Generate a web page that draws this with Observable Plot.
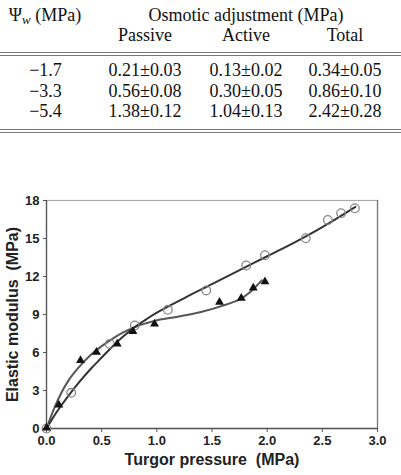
<!DOCTYPE html>
<html><head><meta charset="utf-8">
<script src="https://cdn.jsdelivr.net/npm/d3@7"></script>
<script src="https://cdn.jsdelivr.net/npm/@observablehq/plot@0.6"></script>
<style>
body{margin:0;background:#fff;width:401px;height:475px;overflow:hidden;position:relative}
#table{position:absolute;left:0;top:0;width:401px;height:140px;font-family:"Liberation Serif","Times New Roman",serif;font-size:18px;color:#111}
.t{position:absolute;white-space:nowrap;line-height:18px;transform:translateX(-50%)}
.rule{position:absolute;left:0;width:401px;height:1px;background:#777}
#chart{position:absolute;left:0;top:180px}
</style></head><body>
<div id="table"></div><div id="chart"></div>
<script>
// ---- table data ----
const tableGroup = "Osmotic adjustment (MPa)";
const tableCols = ["Passive", "Active", "Total"];
const psiW = ["\u22121.7", "\u22123.3", "\u22125.4"];
const passiveMean = [0.21, 0.56, 1.38];
const passiveSE = [0.03, 0.08, 0.12];
const activeMean = [0.13, 0.30, 1.04];
const activeSE = [0.02, 0.05, 0.13];
const totalMean = [0.34, 0.86, 2.42];
const totalSE = [0.05, 0.10, 0.28];

// ---- chart data ----
const circleX = [0, 0.224, 0.574, 0.80, 1.10, 1.448, 1.81, 1.98, 2.35, 2.55, 2.67, 2.795];
const circleY = [0, 2.82, 6.68, 8.13, 9.37, 10.9, 12.87, 13.68, 15.02, 16.47, 17.0, 17.39];
const triX = [0, 0.112, 0.308, 0.453, 0.641, 0.783, 0.979, 1.568, 1.765, 1.874, 1.98];
const triY = [0.05, 1.87, 5.37, 6.02, 6.68, 7.66, 8.26, 9.97, 10.29, 11.1, 11.6];
const circleFitX = [0, 0.1, 0.2, 0.3, 0.4, 0.5, 0.6, 0.7, 0.8, 0.9, 1.0, 1.25, 1.5, 1.75, 2.0, 2.25, 2.5, 2.8];
const circleFitY = [0, 1.4, 2.6, 3.7, 4.7, 5.6, 6.5, 7.3, 8.0, 8.6, 9.15, 10.3, 11.4, 12.5, 13.6, 14.7, 15.9, 17.5];
const triFitX = [0, 0.1, 0.2, 0.3, 0.4, 0.5, 0.6, 0.7, 0.8, 0.9, 1.0, 1.2, 1.4, 1.6, 1.75, 1.85, 1.95];
const triFitY = [0, 2.2, 3.8, 4.9, 5.8, 6.5, 7.1, 7.6, 8.0, 8.3, 8.55, 8.85, 9.2, 9.7, 10.2, 10.8, 11.7];
const xTicks = [0, 0.5, 1.0, 1.5, 2.0, 2.5, 3.0];
const yTicks = [0, 3, 6, 9, 12, 15, 18];
const xLabel = "Turgor pressure\u00a0 (MPa)";
const yLabel = "Elastic modulus\u00a0 (MPa)";

// ---- build table ----
const tbl = document.getElementById("table");
function txt(html, cx, baseline) {
  const d = document.createElement("div");
  d.className = "t";
  d.innerHTML = html;
  d.style.left = cx + "px";
  d.style.top = (baseline - 15) + "px";
  tbl.appendChild(d);
}
function rule(y) {
  const d = document.createElement("div");
  d.className = "rule";
  d.style.top = y + "px";
  tbl.appendChild(d);
}
txt("\u03A8<i style='font-size:13px;position:relative;top:3px'>w</i> (MPa)", 45, 20.5);
txt(tableGroup, 246, 20.5);
const colX = [145, 246, 345];
tableCols.forEach((c, i) => txt(c, colX[i], 40.5));
rule(52); rule(54.5);
const rowBase = [76, 96.8, 117.3];
const fmt = (m, s) => m.toFixed(2) + "\u00b1" + s.toFixed(2);
psiW.forEach((p, i) => {
  txt(p, 45.5, rowBase[i]);
  txt(fmt(passiveMean[i], passiveSE[i]), colX[0], rowBase[i]);
  txt(fmt(activeMean[i], activeSE[i]), colX[1], rowBase[i]);
  txt(fmt(totalMean[i], totalSE[i]), colX[2], rowBase[i]);
});
rule(129.3); rule(131.7);

// ---- chart ----
const circles = circleX.map((x, i) => ({x, y: circleY[i]}));
const tris = triX.map((x, i) => ({x, y: triY[i]}));
const circleFit = circleFitX.map((x, i) => ({x, y: circleFitY[i]}));
const triFit = triFitX.map((x, i) => ({x, y: triFitY[i]}));

const chart = Plot.plot({
  width: 401,
  height: 295,
  marginLeft: 46,
  marginRight: 24,
  marginTop: 20,
  marginBottom: 47,
  style: {fontFamily: "'Liberation Sans', Arial, sans-serif", background: "white", color: "#222", overflow: "visible"},
  x: {domain: [0, 3], label: null},
  y: {domain: [0, 18], label: null},
  marks: [
    Plot.frame({stroke: "#aaa", strokeWidth: 1.2}),
    Plot.ruleY([0], {stroke: "#555", strokeWidth: 1.3}),
    Plot.ruleX([0], {stroke: "#555", strokeWidth: 1.3}),
    Plot.ruleX([3], {stroke: "#777", strokeWidth: 1.2}),
    Plot.axisX({ticks: xTicks, tickFormat: d => d.toFixed(1), tickSize: 4, tickPadding: 3, fontSize: 13, fontWeight: "bold", label: null, stroke: "#555"}),
    Plot.axisY({ticks: yTicks, tickFormat: d => String(d), tickSize: 3, tickPadding: 4, fontSize: 13, fontWeight: "bold", label: null, stroke: "#555"}),
    Plot.line(triFit, {x: "x", y: "y", curve: "catmull-rom", stroke: "#555", strokeWidth: 2}),
    Plot.line(circleFit, {x: "x", y: "y", curve: "catmull-rom", stroke: "#333", strokeWidth: 2}),
    Plot.dot(circles, {x: "x", y: "y", r: 4.3, stroke: "#888", strokeWidth: 1.3, fill: "none"}),
    Plot.dot(tris, {x: "x", y: "y", r: 3.3, symbol: "triangle", fill: "#111", stroke: "none"}),
    Plot.text([xLabel], {frameAnchor: "bottom", dy: 36, fontSize: 16, fontWeight: "bold", fill: "#222"}),
    Plot.text([yLabel], {frameAnchor: "left", textAnchor: "middle", dx: -34, rotate: -90, fontSize: 16, fontWeight: "bold", fill: "#222"})
  ]
});
document.getElementById("chart").appendChild(chart);
</script>
</body></html>
